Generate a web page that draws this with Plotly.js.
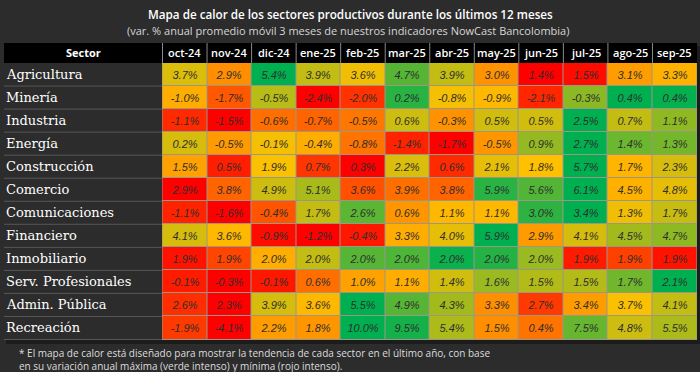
<!DOCTYPE html>
<html>
<head>
<meta charset="utf-8">
<script src="https://cdn.plot.ly/plotly-3.0.1.min.js"></script>
<style>
  html, body { margin: 0; padding: 0; background: #2c2c2c; }
  #chart { width: 700px; height: 372px; }
</style>
</head>
<body>
<div id="chart"></div>
<script>
// ---- Data ----
const months = ['oct-24','nov-24','dic-24','ene-25','feb-25','mar-25','abr-25','may-25','jun-25','jul-25','ago-25','sep-25'];
const sectors = ['Agricultura','Minería','Industria','Energía','Construcción','Comercio','Comunicaciones','Financiero','Inmobiliario','Serv. Profesionales','Admin. Pública','Recreación'];

// var. % anual (promedio móvil 3 meses), one array per sector
const agricultura     = [3.7, 2.9, 5.4, 3.9, 3.6, 4.7, 3.9, 3.0, 1.4, 1.5, 3.1, 3.3];
const mineria         = [-1.0, -1.7, -0.5, -2.4, -2.0, 0.2, -0.8, -0.9, -2.1, -0.3, 0.4, 0.4];
const industria       = [-1.1, -1.5, -0.6, -0.7, -0.5, 0.6, -0.3, 0.5, 0.5, 2.5, 0.7, 1.1];
const energia         = [0.2, -0.5, -0.1, -0.4, -0.8, -1.4, -1.7, -0.5, 0.9, 2.7, 1.4, 1.3];
const construccion    = [1.5, 0.5, 1.9, 0.7, 0.3, 2.2, 0.6, 2.1, 1.8, 5.7, 1.7, 2.3];
const comercio        = [2.9, 3.8, 4.9, 5.1, 3.6, 3.9, 3.8, 5.9, 5.6, 6.1, 4.5, 4.8];
const comunicaciones  = [-1.1, -1.6, -0.4, 1.7, 2.6, 0.6, 1.1, 1.1, 3.0, 3.4, 1.3, 1.7];
const financiero      = [4.1, 3.6, -0.9, -1.2, -0.4, 3.3, 4.0, 5.9, 2.9, 4.1, 4.5, 4.7];
const inmobiliario    = [1.9, 1.9, 2.0, 2.0, 2.0, 2.0, 2.0, 2.0, 2.0, 1.9, 1.9, 1.9];
const servProf        = [-0.1, -0.3, -0.1, 0.6, 1.0, 1.1, 1.4, 1.6, 1.5, 1.5, 1.7, 2.1];
const adminPublica    = [2.6, 2.3, 3.9, 3.6, 5.5, 4.9, 4.3, 3.3, 2.7, 3.4, 3.7, 4.1];
const recreacion      = [-1.9, -4.1, 2.2, 1.8, 10.0, 9.5, 5.4, 1.5, 0.4, 7.5, 4.8, 5.5];

// Colour level of each cell as seen in the picture (0 = rojo intenso, 5 = amarillo, 10 = verde intenso)
const lvAgricultura    = [5.7, 3.7, 10, 6.2, 5.3, 8.3, 6.2, 3.8, 0, 0.3, 4.1, 4.6];
const lvMineria        = [4.5, 2.3, 6.4, 0, 1.3, 9.2, 5.2, 4.8, 1.0, 7.3, 10, 9.9];
const lvIndustria      = [1.1, 0, 2.9, 2.6, 3.1, 6.0, 3.8, 5.9, 5.9, 10, 6.2, 7.2];
const lvEnergia        = [5.8, 4.0, 5.2, 4.5, 3.0, 0.9, 0, 3.9, 7.1, 10, 7.9, 7.7];
const lvConstruccion   = [4.2, 0.8, 5.1, 1.4, 0, 5.7, 1.1, 5.5, 5.0, 10, 4.7, 5.8];
const lvComercio       = [0, 2.6, 6.0, 6.7, 2.1, 2.9, 2.6, 9.2, 8.4, 10, 4.6, 5.5];
const lvComunicaciones = [0.9, 0, 2.2, 6.2, 8.2, 3.9, 4.8, 4.8, 9.1, 10, 5.3, 6.1];
const lvFinanciero     = [5.8, 4.8, 0.3, 0, 0.6, 4.5, 5.5, 10, 4.0, 5.8, 6.8, 7.2];
const lvInmobiliario   = [0.5, 1.8, 4.5, 6.2, 8.3, 8.5, 9.8, 9.3, 7.0, 0.7, 1.7, 0.5];
const lvServProf       = [0.7, 0, 0.6, 2.9, 4.2, 4.5, 5.9, 7.0, 6.5, 6.5, 7.8, 10];
const lvAdminPublica   = [1.2, 0, 5.8, 4.8, 10, 8.3, 6.8, 3.7, 1.5, 4.1, 5.1, 6.2];
const lvRecreacion     = [1.5, 0, 4.1, 3.9, 10, 9.6, 6.6, 3.7, 3.0, 8.0, 6.0, 6.6];

const values = [agricultura, mineria, industria, energia, construccion, comercio,
                comunicaciones, financiero, inmobiliario, servProf, adminPublica, recreacion];
const levels = [lvAgricultura, lvMineria, lvIndustria, lvEnergia, lvConstruccion, lvComercio,
                lvComunicaciones, lvFinanciero, lvInmobiliario, lvServProf, lvAdminPublica, lvRecreacion];

const titleText = 'Mapa de calor de los sectores productivos durante los últimos 12 meses';
const subtitleText = '(var. % anual promedio móvil 3 meses de nuestros indicadores NowCast Bancolombia)';
const headerSector = 'Sector';
const footLine1 = '* El mapa de calor está diseñado para mostrar la tendencia de cada sector en el último año, con base';
const footLine2 = 'en su variación anual máxima (verde intenso) y mínima (rojo intenso).';

// ---- Layout geometry (pixels) ----
const W = 700, H = 372;
const L = 162, R = 3, T = 63, B = 32;
const pw = W - L - R, ph = H - T - B;
const px2x = px => (px - L) / pw;         // page x -> paper x
const py2y = py => (H - B - py) / ph;     // page y -> paper y
const headerTop = 43, tableLeft = 4;

const textVals = values.map(r => r.map(v => v.toFixed(1) + '%'));

const trace = {
  type: 'heatmap',
  x: months,
  y: sectors,
  z: levels,
  zmin: 0, zmax: 10,
  colorscale: [[0, '#ff0000'], [0.5, '#ffc000'], [1, '#00b050']],
  showscale: false,
  xgap: 1, ygap: 1,
  text: textVals,
  texttemplate: '%{text}',
  textfont: { family: 'Liberation Sans, Arial, sans-serif', size: 11, color: '#2e2e2e', style: 'italic' },
  hoverinfo: 'skip'
};

const shapes = [];
const annotations = [];

// table shadow
shapes.push({ type: 'rect', xref: 'paper', yref: 'paper',
  x0: px2x(tableLeft + 2), x1: px2x(W), y0: py2y(H - B + 4), y1: py2y(headerTop + 3),
  fillcolor: 'rgba(0,0,0,0.35)', line: { width: 0 }, layer: 'below' });
shapes.push({ type: 'rect', xref: 'paper', yref: 'paper',
  x0: px2x(tableLeft), x1: 0, y0: 0, y1: 1,
  fillcolor: '#2c2c2c', line: { width: 0 }, layer: 'below' });
// header band
shapes.push({ type: 'rect', xref: 'paper', yref: 'paper',
  x0: px2x(tableLeft), x1: 1, y0: 1, y1: py2y(headerTop),
  fillcolor: '#000000', line: { width: 0 }, layer: 'below' });
// header separators
for (let i = 0; i <= months.length - 1; i++) {
  shapes.push({ type: 'line', xref: 'x', yref: 'paper',
    x0: i - 0.5, x1: i - 0.5, y0: 1, y1: py2y(headerTop),
    line: { color: '#8a8a8a', width: 1 } });
}
// label-column row separators
for (let j = 1; j <= sectors.length; j++) {
  shapes.push({ type: 'line', xref: 'paper', yref: 'y',
    x0: px2x(tableLeft), x1: 0, y0: j - 0.5, y1: j - 0.5,
    line: { color: '#575757', width: 1 } });
}

// header texts
annotations.push({ xref: 'paper', yref: 'paper', x: px2x((tableLeft + L) / 2), y: py2y(53),
  text: headerSector, showarrow: false, xanchor: 'center', yanchor: 'middle',
  font: { family: 'Open Sans, sans-serif', size: 11, color: '#ffffff', weight: 700 } });
months.forEach((m, i) => {
  annotations.push({ xref: 'x', yref: 'paper', x: i, y: py2y(53), text: m, showarrow: false,
    xanchor: 'center', yanchor: 'middle',
    font: { family: 'Open Sans, sans-serif', size: 11, color: '#ffffff', weight: 600 } });
});
// sector labels
sectors.forEach((s, j) => {
  annotations.push({ xref: 'paper', yref: 'y', x: px2x(4), y: j, text: s, showarrow: false,
    xanchor: 'left', yanchor: 'middle',
    font: { family: 'DejaVu Serif, serif', size: 13, color: '#ffffff' } });
});
// titles
annotations.push({ xref: 'paper', yref: 'paper', x: px2x(350), y: py2y(14), text: titleText,
  showarrow: false, xanchor: 'center', yanchor: 'middle',
  font: { family: 'Open Sans, sans-serif', size: 11.7, color: '#ffffff', weight: 600 } });
annotations.push({ xref: 'paper', yref: 'paper', x: px2x(348), y: py2y(30), text: subtitleText,
  showarrow: false, xanchor: 'center', yanchor: 'middle',
  font: { family: 'Open Sans, sans-serif', size: 11, color: '#d6d6d6' } });
// footnote
annotations.push({ xref: 'paper', yref: 'paper', x: px2x(17), y: py2y(353), text: footLine1,
  showarrow: false, xanchor: 'left', yanchor: 'middle',
  font: { family: 'Open Sans, sans-serif', size: 10, color: '#dcdcdc' } });
annotations.push({ xref: 'paper', yref: 'paper', x: px2x(17), y: py2y(365.5), text: footLine2,
  showarrow: false, xanchor: 'left', yanchor: 'middle',
  font: { family: 'Open Sans, sans-serif', size: 10, color: '#dcdcdc' } });

const layout = {
  width: W, height: H,
  margin: { l: L, r: R, t: T, b: B, pad: 0 },
  paper_bgcolor: '#2c2c2c',
  plot_bgcolor: '#ece8d2',
  xaxis: { showticklabels: false, ticks: '', showgrid: false, zeroline: false, fixedrange: true },
  yaxis: { showticklabels: false, ticks: '', showgrid: false, zeroline: false, autorange: 'reversed', fixedrange: true },
  shapes: shapes,
  annotations: annotations,
  showlegend: false
};

Plotly.newPlot('chart', [trace], layout, { displayModeBar: false, staticPlot: true });
</script>
</body>
</html>
